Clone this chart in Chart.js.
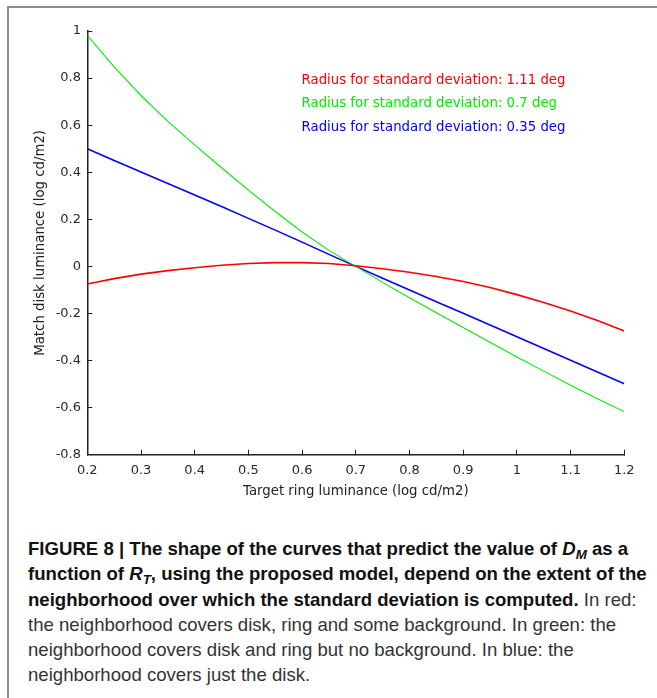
<!DOCTYPE html>
<html>
<head>
<meta charset="utf-8">
<script src="https://cdn.jsdelivr.net/npm/chart.js@4.4.1/dist/chart.umd.min.js"></script>
<style>
html,body{margin:0;padding:0;background:#fff;}
body{width:657px;height:698px;position:relative;overflow:hidden;}
#frame{position:absolute;left:7px;top:6px;right:0;bottom:0;border-top:2px solid #8c8c8c;border-left:2px solid #8c8c8c;}
#wrap{position:absolute;left:0;top:0;width:657px;height:520px;}
#caption{position:absolute;left:28px;top:536px;font-family:"Liberation Sans",Arial,sans-serif;font-size:18.6px;line-height:25.3px;color:#333;white-space:nowrap;}
#caption b{color:#111;}
#caption sub{font-size:0.72em;line-height:0;vertical-align:-0.28em;}
</style>
</head>
<body>
<div id="frame"></div>
<div id="wrap"><canvas id="c"></canvas></div>
<div id="caption"><b>FIGURE 8 | The shape of the curves that predict the value of <i>D<sub>M</sub></i> as a<br>function of <i>R<sub>T</sub></i>, using the proposed model, depend on the extent of the<br>neighborhood over which the standard deviation is computed.</b> In red:<br>the neighborhood covers disk, ring and some background. In green: the<br>neighborhood covers disk and ring but no background. In blue: the<br>neighborhood covers just the disk.</div>
<script>
const xValues = [0.20,0.25,0.30,0.35,0.40,0.45,0.50,0.55,0.60,0.65,0.70,0.75,0.80,0.85,0.90,0.95,1.00,1.05,1.10,1.15,1.20];
const redValues = [-0.075,-0.052,-0.033,-0.018,-0.006,0.005,0.012,0.016,0.016,0.012,0.003,-0.010,-0.025,-0.043,-0.064,-0.090,-0.120,-0.153,-0.190,-0.230,-0.274];
const greenValues = [0.982,0.848,0.726,0.616,0.516,0.419,0.324,0.233,0.146,0.068,0.000,-0.068,-0.133,-0.197,-0.260,-0.322,-0.385,-0.445,-0.505,-0.562,-0.617];
const blueValues = [0.500,0.450,0.401,0.352,0.303,0.254,0.204,0.154,0.103,0.051,0.000,-0.050,-0.100,-0.150,-0.199,-0.249,-0.299,-0.349,-0.399,-0.449,-0.499];
const seriesLabels = ['Radius for standard deviation: 1.11 deg','Radius for standard deviation: 0.7 deg','Radius for standard deviation: 0.35 deg'];
const seriesColors = ['#ff0000','#00ee00','#0000ff'];
const xTickValues = [0.2,0.3,0.4,0.5,0.6,0.7,0.8,0.9,1.0,1.1,1.2];
const xTickLabels = ['0.2','0.3','0.4','0.5','0.6','0.7','0.8','0.9','1','1.1','1.2'];
const yTickValues = [-0.8,-0.6,-0.4,-0.2,0,0.2,0.4,0.6,0.8,1];
const yTickLabels = ['-0.8','-0.6','-0.4','-0.2','0','0.2','0.4','0.6','0.8','1'];
const xTitle = 'Target ring luminance (log cd/m2)';
const yTitle = 'Match disk luminance (log cd/m2)';

const toPoints = vals => xValues.map((x, i) => ({x: x, y: vals[i]}));
const allSeries = [redValues, greenValues, blueValues];
const widths = [1.6, 1.1, 1.6];

const legendPlace = {
  id: 'legendPlace',
  beforeDraw(chart) {
    const lg = chart.legend;
    if (!lg) return;
    lg.left = 284.9; lg.top = 63.9;
    lg.right = lg.left + 400; lg.bottom = chart.chartArea.bottom;
    lg.width = 400; lg.height = lg.bottom - lg.top;
  }
};

new Chart(document.getElementById('c'), {
  type: 'line',
  data: {
    datasets: allSeries.map((vals, i) => ({
      label: seriesLabels[i],
      data: toPoints(vals),
      borderColor: seriesColors[i],
      backgroundColor: seriesColors[i],
      borderWidth: widths[i],
      pointRadius: 0,
      tension: 0,
      fill: false
    }))
  },
  options: {
    responsive: true,
    maintainAspectRatio: false,
    animation: false,
    events: [],
    layout: {padding: {left: 0, top: 31, right: 32.7, bottom: 10.3}},
    plugins: {
      tooltip: {enabled: false},
      legend: {
        display: true,
        position: 'chartArea',
        align: 'start',
        labels: {
          boxWidth: 0,
          boxHeight: 0,
          padding: 10,
          font: {family: 'DejaVu Sans', size: 13.3},
          generateLabels: chart => chart.data.datasets.map((ds, i) => ({
            text: ds.label,
            fontColor: ds.borderColor,
            fillStyle: 'rgba(0,0,0,0)',
            strokeStyle: 'rgba(0,0,0,0)',
            lineWidth: 0,
            hidden: false,
            datasetIndex: i
          }))
        }
      }
    },
    scales: {
      x: {
        type: 'linear',
        min: 0.2, max: 1.2,
        afterFit: s => { s.height = 55; },
        afterBuildTicks: s => { s.ticks = xTickValues.map(v => ({value: v})); },
        ticks: {
          callback: (v, i) => xTickLabels[i],
          font: {family: 'DejaVu Sans', size: 13},
          color: '#2a2a2a',
          padding: 13,
          maxRotation: 0,
          autoSkip: false
        },
        grid: {display: true, drawOnChartArea: false, drawTicks: true, tickLength: -5, tickColor: '#222', tickWidth: 1},
        border: {display: true, color: '#222', width: 1.5},
        title: {display: true, text: xTitle, font: {family: 'DejaVu Sans', size: 13.3}, color: '#222', padding: {top: 0, bottom: 10}}
      },
      y: {
        type: 'linear',
        min: -0.8, max: 1,
        afterFit: s => { s.width = 87.3; },
        afterBuildTicks: s => { s.ticks = yTickValues.map(v => ({value: v})); },
        ticks: {
          callback: (v, i) => yTickLabels[i],
          font: {family: 'DejaVu Sans', size: 13},
          color: '#2a2a2a',
          padding: 11.3,
          autoSkip: false
        },
        grid: {display: true, drawOnChartArea: false, drawTicks: true, tickLength: -5, tickColor: '#222', tickWidth: 1},
        border: {display: true, color: '#222', width: 1.5},
        title: {display: true, text: yTitle, font: {family: 'DejaVu Sans', size: 13.3}, color: '#222', padding: {top: 32.5, bottom: 0}}
      }
    }
  },
  plugins: [legendPlace]
});
</script>
</body>
</html>
